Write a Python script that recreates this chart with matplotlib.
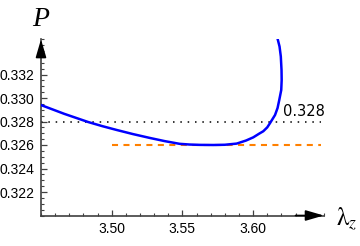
import matplotlib.pyplot as plt
from matplotlib.ticker import MultipleLocator

# curve
lam = [3.4500, 3.4665, 3.4835, 3.4935, 3.5035, 3.5150, 3.5270, 3.5375,
       3.5480, 3.5550, 3.5625, 3.5719, 3.5800, 3.5884, 3.5950, 3.6001,
       3.6045, 3.6072, 3.6100, 3.6120, 3.6155, 3.6173, 3.6185, 3.6199,
       3.6202, 3.6201, 3.6196, 3.6187, 3.6174]
pres = [0.32940, 0.32865, 0.32795, 0.32760, 0.32728, 0.32693, 0.32660, 0.32633,
        0.32610, 0.32604, 0.32601, 0.32600, 0.32602, 0.32612, 0.32638, 0.32665,
        0.32698, 0.32717, 0.32750, 0.32787, 0.32855, 0.32915, 0.32983, 0.33068,
        0.33153, 0.33238, 0.33353, 0.33438, 0.33500]

p_dotted = 0.328
p_dashed = 0.326
dashed_start = 3.50
x_ticks = [3.50, 3.55, 3.60]
y_ticks = [0.322, 0.324, 0.326, 0.328, 0.330, 0.332]

plt.rcParams['font.family'] = 'Liberation Sans'
plt.rcParams['mathtext.fontset'] = 'stix'

fig = plt.figure(figsize=(3.6, 2.46), dpi=100)
ax = fig.add_axes([41 / 360, 30.5 / 246, 282.8 / 360, 176.25 / 246])
ax.set_xlim(3.45, 3.65)
ax.set_ylim(0.320, 0.335)

ax.plot(lam, pres, color='#0000FF', lw=1.8, solid_joinstyle='round', zorder=3)
ax.plot([3.45, 3.648], [p_dotted, p_dotted], color='black', lw=1.1,
        linestyle=(0, (1, 3.8)), dash_capstyle='butt')
ax.plot([dashed_start, 3.648], [p_dashed, p_dashed], color='#FF8000', lw=1.5,
        linestyle=(0, (2.9, 2.6)), dash_capstyle='butt')
ax.text(3.621, 0.3285, '0.328', fontsize=10.5, family='DejaVu Sans',
        ha='left', va='baseline')

for s in ['top', 'right']:
    ax.spines[s].set_visible(False)
for s in ['left', 'bottom']:
    ax.spines[s].set_color('#404040')
    ax.spines[s].set_linewidth(1.2)

ax.set_xticks(x_ticks)
ax.set_xticklabels(['%.2f' % v for v in x_ticks])
ax.set_yticks(y_ticks)
ax.set_yticklabels(['%.3f' % v for v in y_ticks])
ax.xaxis.set_minor_locator(MultipleLocator(0.01))
ax.yaxis.set_minor_locator(MultipleLocator(0.0005))
ax.tick_params(which='major', direction='in', length=4, width=0.9,
               color='#404040', labelsize=10, pad=5)
ax.tick_params(which='minor', direction='in', length=2, width=0.8,
               color='#404040')

# arrow heads on the axes
arrow = dict(arrowstyle='-|>,head_length=1.1,head_width=0.32', color='black',
             lw=1.2, shrinkA=0, shrinkB=0, mutation_scale=10)
ax.annotate('', xy=(1.0, 0), xytext=(0.9, 0), xycoords='axes fraction',
            arrowprops=arrow, annotation_clip=False)
ax.annotate('', xy=(0, 1.0), xytext=(0, 0.9), xycoords='axes fraction',
            arrowprops=arrow, annotation_clip=False)

fig.text(41 / 360, (246 - 26) / 246, 'P', family='Liberation Serif',
         style='italic', fontsize=20, ha='center', va='baseline')
fig.text(336 / 360, (246 - 226) / 246, r'$\mathrm{\lambda}_z$', fontsize=18,
         ha='left', va='baseline')

fig.savefig('out.png', dpi=100)
